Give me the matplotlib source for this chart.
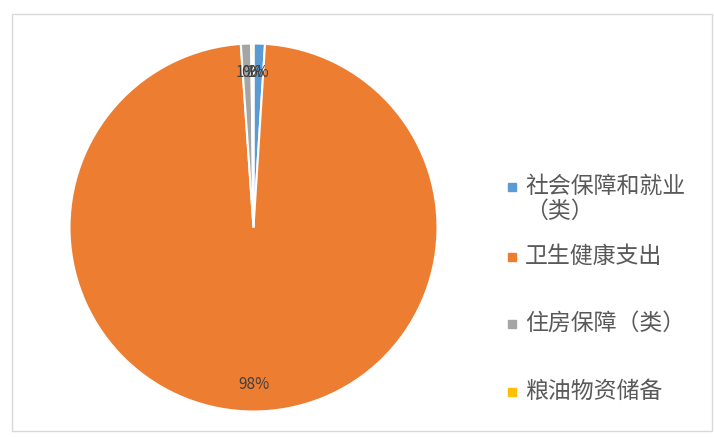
import matplotlib
matplotlib.use("Agg")
import matplotlib.pyplot as plt
from matplotlib.patches import Rectangle

plt.rcParams['font.family'] = ['Noto Sans CJK SC', 'DejaVu Sans']

categories = ["社会保障和就业\n（类）", "卫生健康支出", "住房保障（类）", "粮油物资储备"]
values = [1.0, 97.9, 0.9, 0.2]
colors = ["#5B9BD5", "#ED7D31", "#A5A5A5", "#FFC000"]

W, H = 714, 439
fig = plt.figure(figsize=(W / 100, H / 100), dpi=100)
fig.patch.set_facecolor("white")

# chart border
fig.add_artist(Rectangle((12 / W, 1 - 432 / H), (712 - 12) / W, (432 - 15) / H,
                         transform=fig.transFigure, fill=False,
                         edgecolor="#D9D9D9", linewidth=1))

cx, cy, r = 253.5, 228.5, 184
ax = fig.add_axes([(cx - r) / W, 1 - (cy + r) / H, 2 * r / W, 2 * r / H])
wedges, texts, autotexts = ax.pie(
    values, colors=colors, startangle=90, counterclock=False,
    autopct=lambda p: f"{p:.0f}%", pctdistance=0.85,
    wedgeprops=dict(edgecolor="white", linewidth=1.5),
    textprops=dict(color="#404040", fontsize=11))
ax.set_xlim(-1, 1)
ax.set_ylim(-1, 1)
ax.set_aspect("equal")

# legend drawn manually
legend_y = [188, 258, 325, 393]
for lab, col, y in zip(categories, colors, legend_y):
    fig.add_artist(Rectangle((508 / W, 1 - (y + 4) / H), 8 / W, 8 / H,
                             transform=fig.transFigure, color=col))
    fig.text(525 / W, 1 - (y - 13) / H, lab, fontsize=16.5, color="#595959",
             va="top", ha="left", linespacing=1.1)

fig.savefig("out.png", dpi=100)
